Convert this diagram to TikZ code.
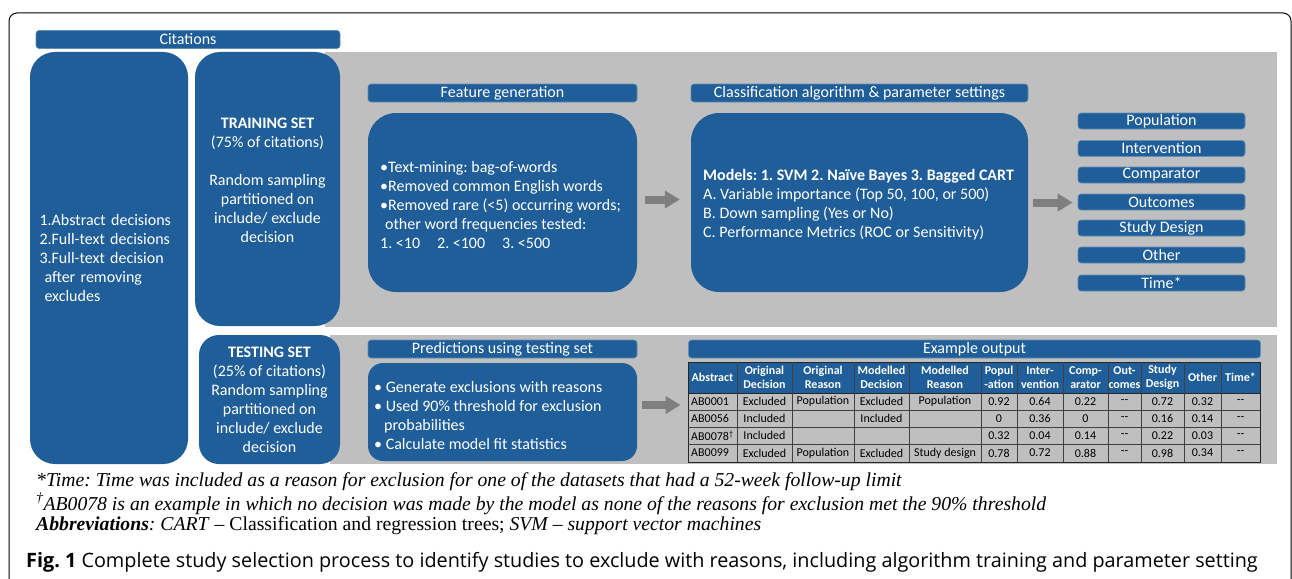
\documentclass[tikz,border=0pt]{standalone}
\usepackage{fontspec}
\setmainfont{Carlito}
\newfontfamily\notefont{Liberation Serif}
\newfontfamily\capfont{Open Sans}
\usetikzlibrary{arrows.meta}
\definecolor{boxblue}{RGB}{31,94,153}
\definecolor{panelgray}{RGB}{191,191,191}
\definecolor{arrowgray}{RGB}{127,127,127}
\frenchspacing

\begin{document}
\begin{tikzpicture}[x=1pt,y=-1pt,
    panel/.style={fill=panelgray},
    bar/.style={fill=boxblue, draw=boxblue!70!white, line width=0.6pt, rounded corners=3pt,
      text=white, inner sep=0pt, font=\fontsize{16}{18}\selectfont},
    bigbox/.style={fill=boxblue, text=white, inner sep=0pt, rounded corners=#1,
      font=\fontsize{16}{19}\selectfont},
    boxtext/.style={text=white, inner sep=0pt, align=left, font=\fontsize{16}{19}\selectfont},
    bigarrow/.style={draw=arrowgray, line width=8pt,
      -{Triangle[width=17pt,length=15pt]}},
    thead/.style={text=white, inner sep=0pt, align=center,
      font=\fontsize{12}{14.5}\selectfont\bfseries},
    tcell/.style={inner sep=0pt, font=\fontsize{12}{14}\selectfont},
    note/.style={anchor=west, inner sep=0pt, font=\notefont\fontsize{19.7}{22}\selectfont}]
  \useasboundingbox (0,0) rectangle (1292,578);
  % frame
  \draw[line width=1pt, rounded corners=8pt] (9,600) -- (9,13) -- (1291,13) -- (1291,600);
  % grey panels
  \fill[panel] (325,52) rectangle (1277,327);
  \fill[panel] (330,335) rectangle (1277,464);

  % citations
  \node[bar, minimum width=304, minimum height=18] (cit) at (188,39.5) {Citations};
  \node[bigbox=25pt, minimum width=158, minimum height=412, text width=139, align=left]
    (cites) at (109,258) {1.Abstract decisions\\2.Full-text decisions\\3.Full-text decision\\
    \hspace*{5pt}after removing\\\hspace*{5pt}excludes};

  % training
  \node[bigbox=25pt, minimum width=145, minimum height=274] (train) at (267.5,189) {};
  \node[boxtext, align=center] (traintxt) at (267.5,180)
    {\textbf{TRAINING SET}\\(75\% of citations)\\[19pt]Random sampling\\partitioned on\\
    include/ exclude\\decision};

  \node[bar, minimum width=269, minimum height=18] (feathead) at (502.5,93) {Feature generation};
  \node[bigbox=28pt, minimum width=269, minimum height=179] (feat) at (502.5,202.5) {};
  \node[boxtext, anchor=west] (feattxt) at (380,205.5)
    {•Text-mining: bag-of-words\\•Removed common English words\\
    •Removed rare (<5) occurring words;\\\hspace*{5pt}other word frequencies tested:\\
    1. <10\hspace{17pt}2. <100\hspace{17pt}3. <500};

  \node[bar, minimum width=337, minimum height=18] (clshead) at (859.5,93)
    {Classification algorithm \& parameter settings};
  \node[bigbox=28pt, minimum width=337, minimum height=179] (cls) at (859.5,202.5) {};
  \node[boxtext, anchor=west] (clstxt) at (703,205)
    {\textbf{Models: 1. SVM 2. Naïve Bayes 3. Bagged CART}\\
    A. Variable importance (Top 50, 100, or 500)\\B. Down sampling (Yes or No)\\
    C. Performance Metrics (ROC or Sensitivity)};

  % reasons
  \node[bar, minimum width=167, minimum height=16] (pop) at (1161.5,121) {Population};
  \node[bar, minimum width=167, minimum height=16] (inter) at (1161.5,148.5) {Intervention};
  \node[bar, minimum width=167, minimum height=16] (comp) at (1161.5,175) {Comparator};
  \node[bar, minimum width=167, minimum height=16] (outc) at (1161.5,202) {Outcomes};
  \node[bar, minimum width=167, minimum height=16] (design) at (1161.5,228) {Study Design};
  \node[bar, minimum width=167, minimum height=16] (other) at (1161.5,255) {Other};
  \node[bar, minimum width=167, minimum height=16] (time) at (1161.5,283) {Time*};

  \draw[bigarrow, shorten <=8pt, shorten >=11pt] ([yshift=3pt]feat.east) -- ([yshift=3pt]cls.west);
  \draw[bigarrow, shorten <=5pt, shorten >=5pt] (cls.east) -- (cls.east -| outc.west);

  % testing
  \node[bigbox=20pt, minimum width=141, minimum height=129, align=center]
    (test) at (269.5,399.5) {\textbf{TESTING SET}\\(25\% of citations)\\Random sampling\\
    partitioned on\\include/ exclude\\decision};

  \node[bar, minimum width=269, minimum height=18] (predhead) at (502.5,349)
    {Predictions using testing set};
  \node[bigbox=15pt, minimum width=269, minimum height=98] (pred) at (502.5,412) {};
  \node[boxtext, anchor=west] (predtxt) at (374,415.5)
    {• Generate exclusions with reasons\\
    • Used 90\% threshold for exclusion\\\hspace*{10pt}probabilities\\
    • Calculate model fit statistics};

  \node[bar, minimum width=572, minimum height=18] (exhead) at (974.5,349) {Example output};

  % example output table
  \fill[boxblue] (688,362) rectangle (1260,393);
  \node[draw=black!85, line width=1pt, minimum width=572, minimum height=100, inner sep=0pt]
    (tbl) at (974,412) {};
  \draw[black!85, line width=1pt] (688,393) -- (1260,393);
  \foreach \y in {410,427,444}
    \draw[black!75, line width=0.8pt] (688,\y) -- (1260,\y);
  \foreach \x in {737,792,854,909,981,1017,1063,1108,1141,1184,1221}
    \draw[black!75, line width=0.8pt] (\x,362) -- (\x,462);

  \foreach \x/\t [count=\i] in {712.5/Abstract, 764.5/Original\\Decision, 823/Original\\Reason,
      881.5/Modelled\\Decision, 945/Modelled\\Reason, 999/Popul\\-ation, 1040/Inter-\\vention,
      1085.5/Comp-\\arator, 1124.5/Out-\\comes, 1162.5/Study\\Design, 1202.5/Other, 1240.5/Time*}
    \node[thead] (h\i) at (\x,377.5) {\t};

  \node[tcell, anchor=west] (a1) at (691,401.5) {AB0001};
  \node[tcell, anchor=west] (a2) at (691,418.5) {AB0056};
  \node[tcell, anchor=west] (a3) at (691,435.5) {AB0078\textsuperscript{\dag}};
  \node[tcell, anchor=west] (a4) at (691,453) {AB0099};
  \foreach \x/\t [count=\i] in {764.5/Excluded, 823/Population, 881.5/Excluded, 945/Population,
      999/0.92, 1040/0.64, 1085.5/0.22, 1124.5/-{}-, 1162.5/0.72, 1202.5/0.32, 1240.5/-{}-}
    \node[tcell] (b\i) at (\x,401.5) {\t};
  \foreach \x/\t [count=\i] in {764.5/Included, 881.5/Included, 999/0, 1040/0.36, 1085.5/0,
      1124.5/-{}-, 1162.5/0.16, 1202.5/0.14, 1240.5/-{}-}
    \node[tcell] (c\i) at (\x,418.5) {\t};
  \foreach \x/\t [count=\i] in {764.5/Included, 999/0.32, 1040/0.04, 1085.5/0.14,
      1124.5/-{}-, 1162.5/0.22, 1202.5/0.03, 1240.5/-{}-}
    \node[tcell] (d\i) at (\x,435.5) {\t};
  \foreach \x/\t [count=\i] in {764.5/Excluded, 823/Population, 881.5/Excluded, 945/Study design,
      999/0.78, 1040/0.72, 1085.5/0.88, 1124.5/-{}-, 1162.5/0.98, 1202.5/0.34, 1240.5/-{}-}
    \node[tcell] (e\i) at (\x,453) {\t};

  \draw[bigarrow, shorten <=5pt, shorten >=7pt] ([yshift=7pt]pred.east) -- ([yshift=7pt]pred.east -| tbl.west);

  % notes and caption
  \node[note] (n1) at (36,482) {\itshape *Time: Time was included as a reason for exclusion for one of the datasets that had a 52-week follow-up limit};
  \node[note] (n2) at (36,504) {\itshape \textsuperscript{\dag}AB0078 is an example in which no decision was made by the model as none of the reasons for exclusion met the 90\% threshold};
  \node[note] (n3) at (36,526) {\textbf{\textit{Abbreviations}}\textit{: CART} – Classification and regression trees; \textit{SVM – support vector machines}};
  \node[anchor=west, inner sep=0pt, font=\capfont\fontsize{19.8}{22}\selectfont] (cap) at (26,562)
    {\textbf{Fig. 1} Complete study selection process to identify studies to exclude with reasons, including algorithm training and parameter setting};
\end{tikzpicture}
\end{document}
